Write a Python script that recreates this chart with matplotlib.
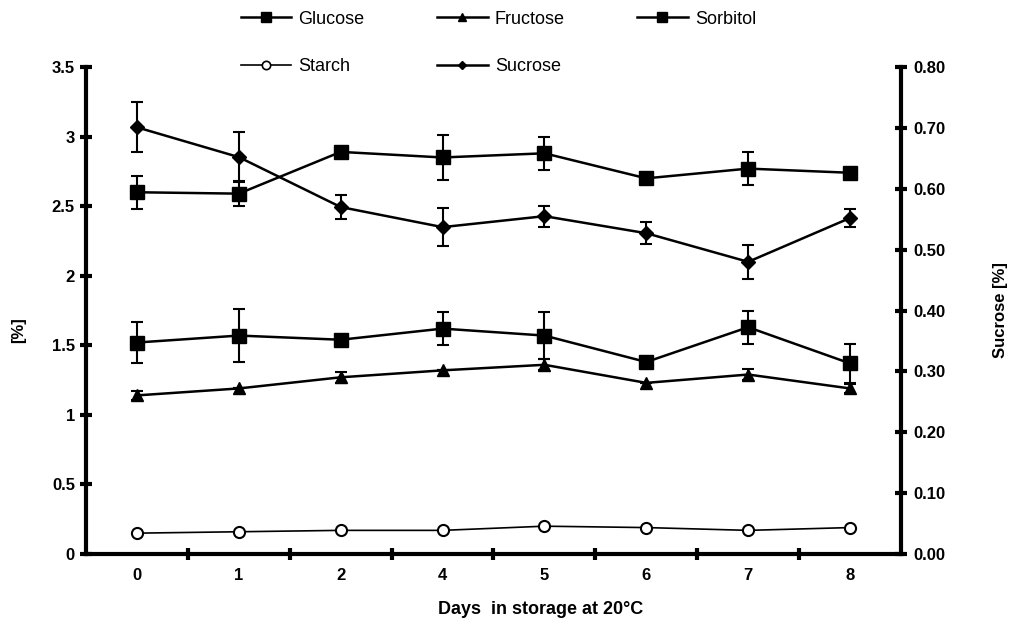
import matplotlib
matplotlib.use("Agg")
import matplotlib.pyplot as plt
from matplotlib.lines import Line2D
from matplotlib.ticker import FormatStrFormatter

plt.rcParams['font.family'] = ['Liberation Sans', 'DejaVu Sans']

days = ["0", "1", "2", "4", "5", "6", "7", "8"]

glucose = [2.60, 2.59, 2.89, 2.85, 2.88, 2.70, 2.77, 2.74]
glucose_err = [0.12, 0.09, 0.0, 0.16, 0.12, 0.0, 0.12, 0.0]

sorbitol = [1.52, 1.57, 1.54, 1.62, 1.57, 1.38, 1.63, 1.37]
sorbitol_err = [0.15, 0.19, 0.0, 0.12, 0.17, 0.0, 0.12, 0.14]

fructose = [1.14, 1.19, 1.27, 1.32, 1.36, 1.23, 1.29, 1.19]
fructose_err = [0.03, 0.0, 0.04, 0.0, 0.04, 0.0, 0.04, 0.03]

starch = [0.15, 0.16, 0.17, 0.17, 0.20, 0.19, 0.17, 0.19]

sucrose = [0.701, 0.652, 0.570, 0.537, 0.555, 0.527, 0.480, 0.552]
sucrose_err = [0.041, 0.041, 0.019, 0.031, 0.017, 0.018, 0.028, 0.015]

x = list(range(len(days)))

fig = plt.figure(figsize=(10.13, 6.27), dpi=100)
ax = fig.add_axes([0.0849, 0.1164, 0.8045, 0.7767])
ax2 = ax.twinx()

eb = dict(color='k', lw=1.8, elinewidth=1.5, capsize=4.5, capthick=1.5)

ax.errorbar(x, glucose, yerr=glucose_err, marker='s', ms=10, **eb)
ax.errorbar(x, sorbitol, yerr=sorbitol_err, marker='s', ms=10, **eb)
ax.errorbar(x, fructose, yerr=fructose_err, marker='^', ms=8, **eb)
ax.plot(x, starch, color='k', lw=1.2, marker='o', ms=8, mfc='white', mec='k', mew=1.5)
ax2.errorbar(x, sucrose, yerr=sucrose_err, marker='D', ms=7.5, **eb)

ax.set_xlim(-0.5, 7.5)
ax.set_ylim(0, 3.5)
ax2.set_ylim(0, 0.8)

ax.set_xticks(x)
ax.set_xticklabels(days)
ax.set_xticks([i + 0.5 for i in range(7)], minor=True)
ax.set_yticks([0, 0.5, 1, 1.5, 2, 2.5, 3, 3.5])
ax.set_yticklabels(["0", "0.5", "1", "1.5", "2", "2.5", "3", "3.5"])
ax2.set_yticks([0.0, 0.1, 0.2, 0.3, 0.4, 0.5, 0.6, 0.7, 0.8])
ax2.yaxis.set_major_formatter(FormatStrFormatter('%.2f'))

for a in (ax, ax2):
    a.spines['top'].set_visible(False)
    for s in ('left', 'right', 'bottom'):
        a.spines[s].set_linewidth(3)
ax.spines['right'].set_visible(False)
ax2.spines['left'].set_visible(False)
ax2.spines['bottom'].set_visible(False)

ax.tick_params(axis='x', which='major', length=0, pad=10, labelsize=12)
ax.tick_params(axis='x', which='minor', direction='inout', length=8, width=3)
ax.tick_params(axis='y', direction='inout', length=8, width=3, pad=4, labelsize=12)
ax2.tick_params(axis='y', direction='inout', length=8, width=3, pad=5, labelsize=12)
for lab in ax.get_xticklabels() + ax.get_yticklabels() + ax2.get_yticklabels():
    lab.set_fontweight('bold')

ax.set_xlabel("Days  in storage at 20°C", fontsize=13, fontweight='bold')
ax.xaxis.set_label_coords(0.558, -0.097)
ax.set_ylabel("[%]", fontsize=12, fontweight='bold')
ax.yaxis.set_label_coords(-0.074, 0.46)
ax2.set_ylabel("Sucrose [%]", fontsize=12, fontweight='bold', labelpad=34)

# legend with plain line+marker handles
handles = [
    Line2D([], [], color='k', lw=1.8, marker='s', ms=7),
    Line2D([], [], color='k', lw=1.2, marker='o', ms=6, mfc='white', mew=1.2),
    Line2D([], [], color='k', lw=1.8, marker='^', ms=6),
    Line2D([], [], color='k', lw=1.8, marker='D', ms=4.5),
    Line2D([], [], color='k', lw=1.8, marker='s', ms=7),
]
labels = ['Glucose', 'Starch', 'Fructose', 'Sucrose', 'Sorbitol']
fig.legend(handles, labels, ncol=3, loc='upper center', bbox_to_anchor=(0.492, 1.009),
           frameon=False, fontsize=13, handlelength=2.8, columnspacing=4.0,
           labelspacing=1.7, handletextpad=0.4)

fig.savefig("out.png", dpi=100)
